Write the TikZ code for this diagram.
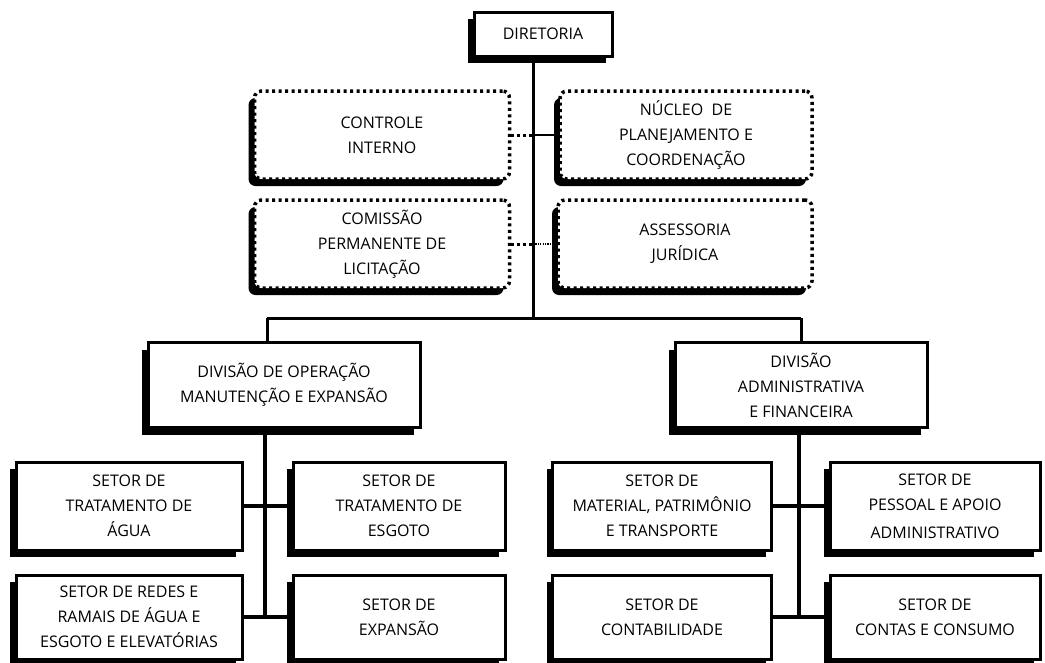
\documentclass[tikz,border=0pt]{standalone}
\usepackage{fontspec}
\setmainfont{Open Sans}
\usepackage{tikz}
\usetikzlibrary{shadows}

\tikzset{
	box/.style={draw=black, line width=3pt, fill=white, inner sep=0pt, align=center,
		font={\fontsize{16}{25}\selectfont},
		drop shadow={shadow xshift=-6pt, shadow yshift=-7pt, fill=black, opacity=1}},
	dotbox/.style={box, rounded corners=7pt, line width=3.5pt, dash pattern=on 3pt off 3.5pt},
	trunk/.style={line width=3pt},
	limb/.style={line width=4.5pt},
	dots/.style={line width=3pt, dash pattern=on 3pt off 3pt},
	fine/.style={line width=1.2pt},
	finedots/.style={line width=1.2pt, dash pattern=on 1.2pt off 1.2pt}
}

\begin{document}
\begin{tikzpicture}[x=1pt, y=-1pt]
	\useasboundingbox (0,0) rectangle (1045,662);

	\node[box, minimum width=138pt, minimum height=44pt] (dir) at (543, 34) {DIRETORIA};

	\node[dotbox, minimum width=255pt, minimum height=88pt] (ctrl) at (382, 135) {CONTROLE\\INTERNO};
	\node[dotbox, minimum width=252pt, minimum height=88pt] (nuc) at (686, 135) {NÚCLEO\ \ DE\\PLANEJAMENTO E\\COORDENAÇÃO};
	\node[dotbox, minimum width=255pt, minimum height=88pt] (cpl) at (382, 244) {COMISSÃO\\PERMANENTE DE\\LICITAÇÃO};
	\node[dotbox, minimum width=254pt, minimum height=88pt] (asj) at (685, 244) {ASSESSORIA\\JURÍDICA};

	\node[box, minimum width=272pt, minimum height=85pt] (dop) at (284, 385) {DIVISÃO DE OPERAÇÃO\\MANUTENÇÃO E EXPANSÃO};
	\node[box, minimum width=252pt, minimum height=85pt] (daf) at (801, 385) {DIVISÃO\\ADMINISTRATIVA\\E FINANCEIRA};

	\node[box, minimum width=226pt, minimum height=88pt] (agua) at (129, 506) {SETOR DE\\TRATAMENTO DE\\ÁGUA};
	\node[box, minimum width=212pt, minimum height=88pt] (esg) at (399, 506) {SETOR DE\\TRATAMENTO DE\\ESGOTO};
	\node[box, minimum width=226pt, minimum height=84pt] (redes) at (129, 617) {SETOR DE REDES E\\RAMAIS DE ÁGUA E\\ESGOTO E ELEVATÓRIAS};
	\node[box, minimum width=212pt, minimum height=84pt] (exp) at (399, 617) {SETOR DE\\EXPANSÃO};

	\node[box, minimum width=219pt, minimum height=88pt] (mat) at (662, 506) {SETOR DE\\MATERIAL, PATRIMÔNIO\\E TRANSPORTE};
	\node[box, minimum width=210pt, minimum height=88pt] (pes) at (935, 506) {SETOR DE\\PESSOAL E APOIO\\[3pt]ADMINISTRATIVO};
	\node[box, minimum width=219pt, minimum height=84pt] (cont) at (662, 617) {SETOR DE\\CONTABILIDADE};
	\node[box, minimum width=210pt, minimum height=84pt] (ccons) at (935, 617) {SETOR DE\\CONTAS E CONSUMO};

	\coordinate (bar) at (533, 318);
	\coordinate (barL) at (267, 318);
	\coordinate (barR) at (801, 318);
	\coordinate (opEnd) at (265, 617);
	\coordinate (afEnd) at (799, 617);

	\draw[trunk] (dir.south -| bar) -- (bar);
	\draw[trunk] (barL) -- (barR);
	\draw[trunk] (barL) -- (barL |- dop.north);
	\draw[trunk] (barR) -- (daf.north);

	\draw[dots] (ctrl.east) -- (ctrl.east -| bar);
	\draw[fine] (ctrl.east -| bar) -- (nuc.west);
	\draw[dots] (cpl.east) -- (cpl.east -| bar);
	\draw[finedots] (cpl.east -| bar) -- (asj.west);

	\draw[limb] (dop.south -| opEnd) -- (opEnd);
	\draw[limb] (agua.east) -- (esg.west);
	\draw[limb] (redes.east) -- (exp.west);

	\draw[limb] (daf.south -| afEnd) -- (afEnd);
	\draw[limb] (mat.east) -- (pes.west);
	\draw[limb] (cont.east) -- (ccons.west);
\end{tikzpicture}
\end{document}
